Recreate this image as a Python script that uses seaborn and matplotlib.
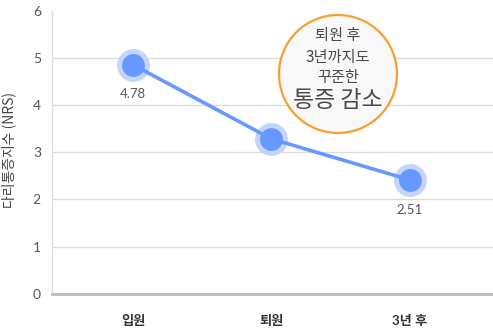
import matplotlib
matplotlib.use("Agg")
import matplotlib.pyplot as plt
import seaborn as sns
import pandas as pd
from matplotlib.patches import Ellipse

categories = ["입원", "퇴원", "3년 후"]
values = [4.85, 3.28, 2.41]
value_labels = ["4.78", "", "2.51"]
y_ticks = [0, 1, 2, 3, 4, 5, 6]

sns.set_theme(style="white")
plt.rcParams['font.family'] = ['Lato', 'Noto Sans CJK KR', 'DejaVu Sans']

df = pd.DataFrame({"stage": categories, "nrs": values})
df["x"] = range(len(categories))

fig = plt.figure(figsize=(4.93, 3.29), dpi=100)
ax = fig.add_axes([52/493, 35.3/329, 1 - 52/493, (318.5-35.3)/329])

line_c = "#6699ff"
sns.lineplot(data=df, x="x", y="nrs", ax=ax, color=line_c, linewidth=2.6, zorder=3)
sns.scatterplot(data=df, x="x", y="nrs", ax=ax, color="#c4d4fb", s=560, linewidth=0, zorder=2, legend=False)
sns.scatterplot(data=df, x="x", y="nrs", ax=ax, color=line_c, s=270, linewidth=0, zorder=4, legend=False)

for xi, yi, lab in zip(df["x"], df["nrs"], value_labels):
    if lab:
        ax.annotate(lab, (xi, yi), xytext=(0, -17), textcoords="offset points",
                    ha="center", va="top", fontsize=9.5, color="#555555")

ax.set_xlim(-0.585, 2.6)
ax.set_ylim(0, 6)
ax.set_yticks(y_ticks)
ax.set_yticklabels([str(t) for t in y_ticks])
ax.set_xticks(df["x"])
ax.set_xticklabels(categories, fontsize=9.5, color="#333333", fontweight="bold")
ax.tick_params(axis="y", labelsize=10, colors="#555555", length=0, pad=8)
ax.tick_params(axis="x", length=0, pad=15)
ax.set_xlabel("")
ax.set_ylabel("")
fig.text(8.5/493, 1 - 150/329, "다리통증지수 (NRS)", rotation=90, ha="center", va="center",
         fontsize=10, color="#444444", family=['Noto Sans CJK KR', 'DejaVu Sans'], fontweight="light")

ax.yaxis.grid(True, color="#dddddd", linewidth=1)
ax.get_ygridlines()[-1].set_visible(False)
ax.set_axisbelow(True)
for s in ["top", "right"]:
    ax.spines[s].set_visible(False)
ax.spines["left"].set_color("#dddddd")
ax.spines["left"].set_linewidth(1)
ax.spines["bottom"].set_color("#bbbbbb")
ax.spines["bottom"].set_linewidth(2)

# annotation circle (in pixel-derived axes fraction)
ax_w = 493 - 52
ax_h = 318.5 - 35.3
cx = (338 - 52) / ax_w
cy = (329 - 74 - 35.3) / ax_h
r = 59
circ = Ellipse((cx, cy), 2*r/ax_w, 2*r/ax_h, transform=ax.transAxes,
               facecolor="#f8f8f8", edgecolor="#f5a033", linewidth=1.6, zorder=5)
ax.add_patch(circ)
lines = [("퇴원 후", 35, 11), ("3년까지도", 57, 11), ("꾸준한", 77, 11), ("통증 감소", 100, 16.5)]
for txt, py, fs in lines:
    ax.text(cx, (329 - py - 35.3) / ax_h, txt, transform=ax.transAxes, ha="center", va="center",
            fontsize=fs, color="#4a4a4a", family=['Noto Sans CJK KR', 'DejaVu Sans'],
            fontweight="light", zorder=6)

fig.savefig("out.png", dpi=100)
